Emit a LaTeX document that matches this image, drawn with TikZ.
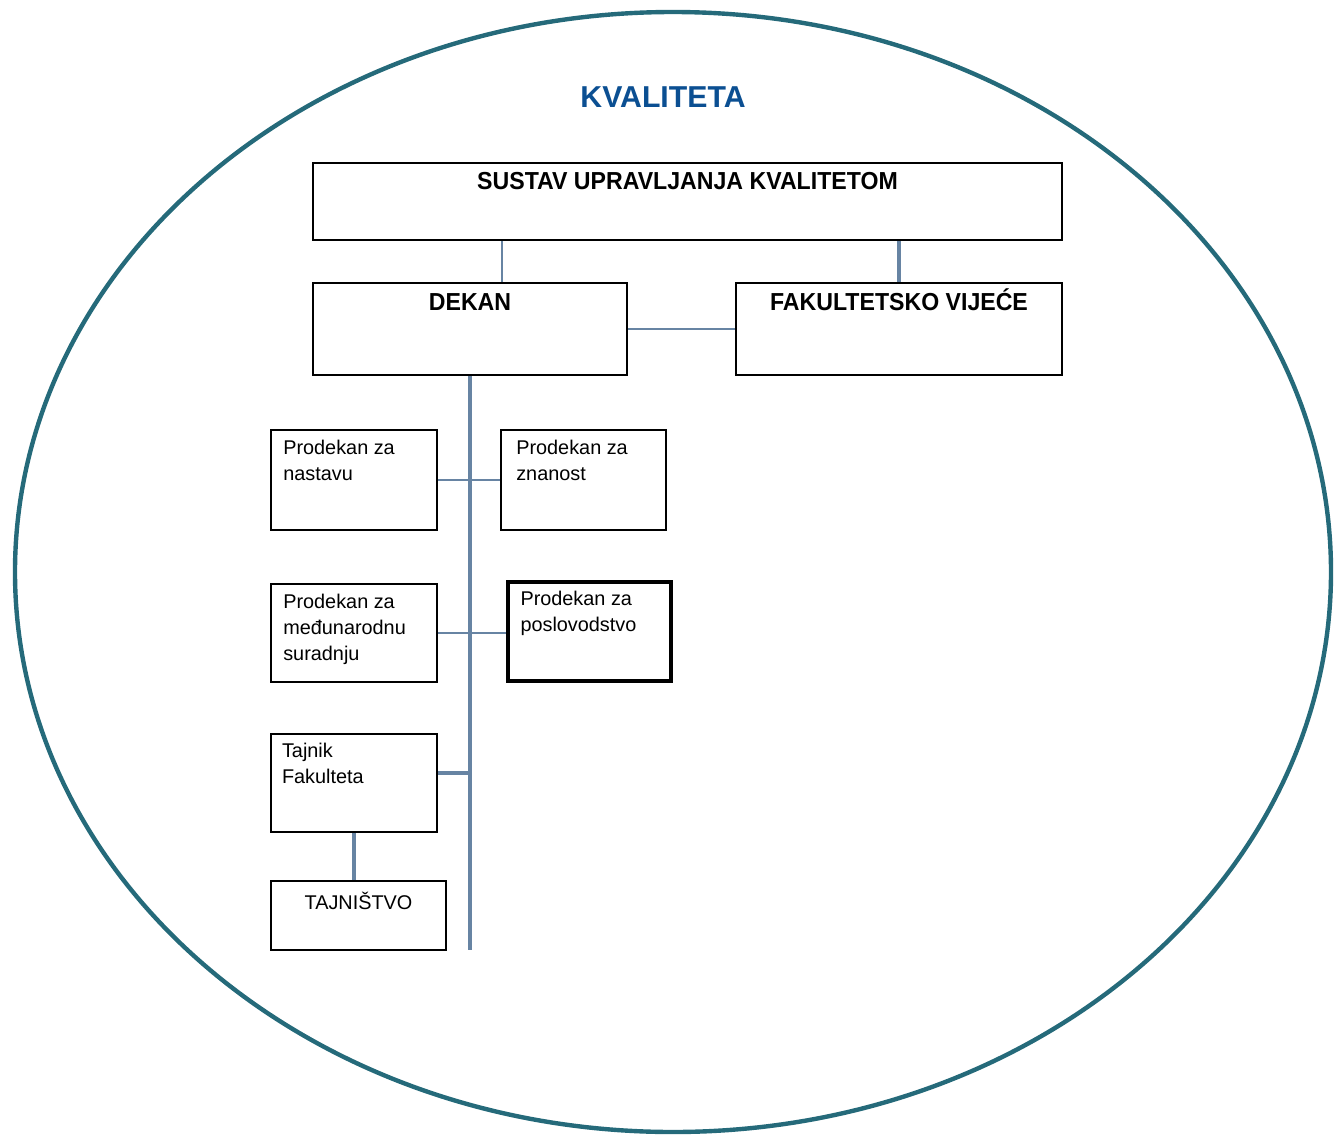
\documentclass[tikz,border=0pt]{standalone}
\usepackage{fontspec}
\setmainfont{Liberation Sans}
\newfontfamily\headfont[FakeStretch=0.94]{Liberation Sans}
\usetikzlibrary{calc,fit}
\definecolor{rim}{HTML}{256A7A}
\definecolor{linkblue}{HTML}{6784A3}
\definecolor{titleblue}{HTML}{0B4F92}
\tikzset{
  box/.style={draw, line width=1.5pt, inner sep=0pt},
  thickbox/.style={box, line width=2.1pt},
  thinbox/.style={box, line width=1.2pt},
  conn/.style={linkblue, line width=1.3pt},
  trunk/.style={linkblue, line width=2pt},
  toptext/.style={font=\headfont\bfseries\fontsize{14}{16}\selectfont, inner sep=0pt, anchor=base},
  smalltext/.style={font=\fontsize{11.3}{14.7}\selectfont, align=left, inner sep=0pt, anchor=north west}
}

\begin{document}
\begin{tikzpicture}[x=0.2mm,y=-0.2mm]
\useasboundingbox (0,0) rectangle (1335,1137);
\draw[rim,line width=2.5pt] (673,572) ellipse (658 and 560);
\node[font=\bfseries\fontsize{17.2}{20}\selectfont, text=titleblue] (title) at (663,97) {KVALITETA};

% upper level
\node[box, fit={(313,163) (1062,240)}] (sustav) {};
\node[box, fit={(313,283) (627,375)}] (dekan) {};
\node[thinbox, fit={(736,283) (1062,375)}] (vijece) {};
\node[toptext] at ($(sustav.north)+(0,28)$) {SUSTAV UPRAVLJANJA KVALITETOM};
\node[toptext] at ($(dekan.north)+(0,29)$) {DEKAN};
\node[toptext] at ($(vijece.north)+(0,29)$) {FAKULTETSKO VIJEĆE};

% prodekani and tajnik
\node[thinbox, fit={(271,430) (437,530)}] (nastava) {};
\node[thinbox, fit={(501,430) (666,530)}] (znanost) {};
\node[thinbox, fit={(271,584) (437,682)}] (medjunar) {};
\node[thickbox, fit={(508,582) (671,681)}] (poslovod) {};
\node[box, fit={(271,734) (437,832)}] (tajnik) {};
\node[box, fit={(271,881) (446,950)}] (tajnistvo) {};
\node[smalltext] at ($(nastava.north west)+(13,11)$) {Prodekan za\\nastavu};
\node[smalltext] at ($(znanost.north west)+(16,11)$) {Prodekan za\\znanost};
\node[smalltext] at ($(medjunar.north west)+(13,11)$) {Prodekan za\\međunarodnu\\suradnju};
\node[smalltext] at ($(poslovod.north west)+(14,11)$) {Prodekan za\\poslovodstvo};
\node[smalltext] at ($(tajnik.north west)+(12,10)$) {Tajnik\\Fakulteta};
\node[smalltext, anchor=north] at ($(tajnistvo.north)+(0,12)$) {TAJNIŠTVO};

% connectors
\coordinate (dekantop) at ($(dekan.north west)!0.6!(dekan.north east)$);
\coordinate (tajnikout) at ($(tajnik.north east)!0.4!(tajnik.south east)$);
\coordinate (trunkend) at (470,950);
\draw[conn] (dekantop) -- (dekantop |- sustav.south);
\draw[trunk] (vijece.north) -- (vijece.north |- sustav.south);
\draw[conn] (dekan.east) -- (vijece.west);
\draw[trunk] (dekan.south) -- (trunkend);
\draw[conn] (nastava.east) -- (znanost.west);
\draw[conn] (medjunar.east) -- (medjunar.east -| poslovod.west);
\draw[trunk] (tajnikout) -- (tajnikout -| trunkend);
\draw[trunk] (tajnik.south) -- (tajnik.south |- tajnistvo.north);
\end{tikzpicture}
\end{document}
